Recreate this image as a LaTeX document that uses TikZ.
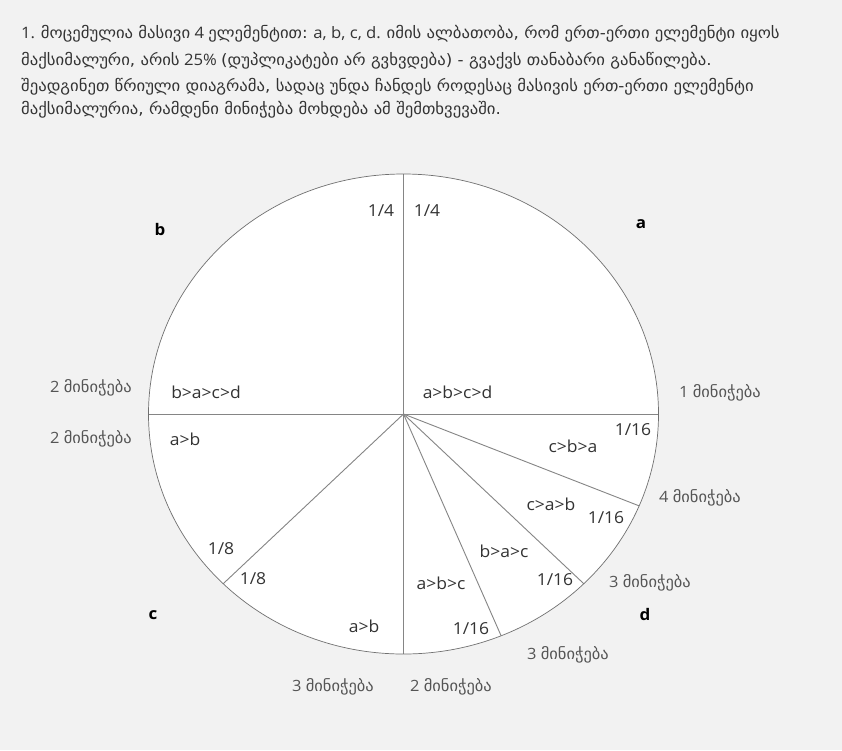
\documentclass[tikz,border=0pt]{standalone}
\usepackage{fontspec}
\setmainfont[FakeStretch=1.06]{Open Sans}
\newfontfamily\geo[FakeStretch=1.06]{DejaVu Sans}
\definecolor{bg}{HTML}{F2F2F2}
\definecolor{txt}{HTML}{333333}
\definecolor{gtxt}{HTML}{555555}
\definecolor{spoke}{HTML}{858585}
\definecolor{rim}{HTML}{707070}
\begin{document}
\begin{tikzpicture}[x=1pt,y=-1pt,
  lbl/.style={font=\fontsize{16.5}{18}\selectfont, text=txt, inner sep=0pt},
  cnt/.style={font=\fontsize{15.5}{17}\selectfont, text=gtxt, inner sep=0pt},
  big/.style={font=\bfseries\fontsize{16}{18}\selectfont, text=black, inner sep=0pt},
  hdr/.style={anchor=west, font=\fontsize{15.75}{17}\selectfont, text=txt, inner sep=0pt},
  spokeline/.style={draw=spoke, line width=0.9pt}]
\fill[bg] (0,0) rectangle (842,750);
\useasboundingbox (0,0) rectangle (842,750);
% header
\node[hdr] (h1) at (21,34) {1. {\geo მოცემულია მასივი} 4 {\geo ელემენტით:} a, b, c, d. {\geo იმის ალბათობა, რომ ერთ-ერთი ელემენტი იყოს}};
\node[hdr] (h2) at (21,61) {{\geo მაქსიმალური, არის} 25\% {\geo (დუპლიკატები არ გვხვდება) - გვაქვს თანაბარი განაწილება.}};
\node[hdr] (h3) at (21,87) {{\geo შეადგინეთ წრიული დიაგრამა, სადაც უნდა ჩანდეს როდესაც მასივის ერთ-ერთი ელემენტი}};
\node[hdr] (h4) at (21,110) {{\geo მაქსიმალურია, რამდენი მინიჭება მოხდება ამ შემთხვევაში.}};
% pie
\coordinate (O) at (403.5,414);
\fill[white] (O) ellipse [x radius=255pt, y radius=240pt];
\foreach \a/\n in {0/e0,90/e90,180/e180,225/e225,270/e270,292.5/e292,315/e315,337.5/e337}{
  \path (O) ++(\a:255pt and 240pt) coordinate (\n);
  \draw[spokeline] (O) -- (\n);
}
\draw[rim, line width=0.7pt] (O) ellipse [x radius=255pt, y radius=240pt];
% labels inside
\node[lbl] (q1) at (381,211) {1/4};
\node[lbl] (q2) at (427,211) {1/4};
\node[lbl] (p1) at (206,392) {b>a>c>d};
\node[lbl] (p2) at (457.5,392) {a>b>c>d};
\node[lbl] (p3) at (185,439) {a>b};
\node[lbl] (p4) at (364,626) {a>b};
\node[lbl] (e1) at (221,549) {1/8};
\node[lbl] (e2) at (253,579) {1/8};
\node[lbl] (s1) at (633,430) {1/16};
\node[lbl] (s2) at (606,518) {1/16};
\node[lbl] (s3) at (555,580) {1/16};
\node[lbl] (s4) at (471,629) {1/16};
\node[lbl] (r1) at (573,446) {c>b>a};
\node[lbl] (r2) at (551,504) {c>a>b};
\node[lbl] (r3) at (504,551) {b>a>c};
\node[lbl] (r4) at (441,583) {a>b>c};
% big letters
\node[big] (la) at (641,224) {a};
\node[big] (lb) at (160,229) {b};
\node[big] (lc) at (153,615) {c};
\node[big] (ld) at (645,614) {d};
% counts
\node[cnt] (c1) at (720,393) {1 {\geo მინიჭება}};
\node[cnt] (c2) at (91,388) {2 {\geo მინიჭება}};
\node[cnt] (c3) at (91,439) {2 {\geo მინიჭება}};
\node[cnt] (c4) at (700,498) {4 {\geo მინიჭება}};
\node[cnt] (c5) at (650,583) {3 {\geo მინიჭება}};
\node[cnt] (c6) at (568,655) {3 {\geo მინიჭება}};
\node[cnt] (c7) at (333,687) {3 {\geo მინიჭება}};
\node[cnt] (c8) at (451,687) {2 {\geo მინიჭება}};
\end{tikzpicture}
\end{document}
